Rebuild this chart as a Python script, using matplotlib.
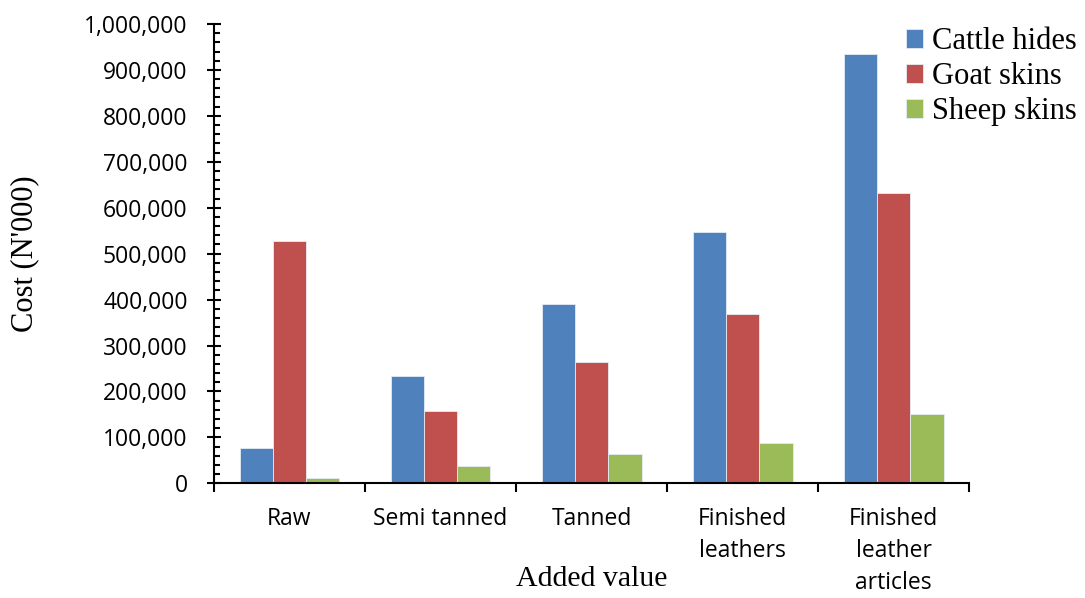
import matplotlib
matplotlib.use("Agg")
import matplotlib.pyplot as plt
from matplotlib.ticker import FuncFormatter, MultipleLocator, FixedLocator
import numpy as np

# Cost of hides and skins at each stage of added value (N'000)
categories = ["Raw", "Semi tanned", "Tanned", "Finished\nleathers", "Finished\nleather\narticles"]
cattle_hides = [77500, 233600, 389700, 546500, 935300]
goat_skins = [527500, 157400, 263400, 368600, 632000]
sheep_skins = [11500, 37700, 63100, 87700, 150200]
series_names = ["Cattle hides", "Goat skins", "Sheep skins"]
series_colors = ["#4F81BD", "#C0504D", "#9BBB59"]

sans = "Open Sans"
serif = "Liberation Serif"

fig = plt.figure(figsize=(10.85, 5.98), dpi=100)
ax = fig.add_axes([0.1972, 0.1918, 0.8934 - 0.1972, 0.9599 - 0.1918])

x = np.arange(len(categories))
width = 0.22
for i, (vals, name, col) in enumerate(zip([cattle_hides, goat_skins, sheep_skins],
                                          series_names, series_colors)):
    ax.bar(x + (i - 1) * width, vals, width, color=col, label=name,
           edgecolor="#E4ECF5", linewidth=0.6, zorder=2)

ax.set_xlim(-0.5, len(categories) - 0.5)
ax.set_ylim(0, 1_000_000)

for side in ("top", "right"):
    ax.spines[side].set_visible(False)
for side in ("left", "bottom"):
    ax.spines[side].set_linewidth(1.5)
    ax.spines[side].set_color("black")

# y axis: major ticks every 100,000 crossing the axis, minor ticks inside
ax.yaxis.set_major_locator(MultipleLocator(100_000))
ax.yaxis.set_minor_locator(MultipleLocator(20_000))
ax.yaxis.set_major_formatter(FuncFormatter(lambda v, p: f"{int(v):,}"))
ax.tick_params(axis="y", which="major", direction="inout", length=10, width=1.5,
               pad=14, labelsize=16.5, colors="black")
ax.tick_params(axis="y", which="minor", direction="in", length=4.3, width=1.5)

# x axis: labels at category centres, tick marks at category boundaries
ax.xaxis.set_major_locator(FixedLocator(x))
ax.set_xticklabels(categories, fontfamily=sans, linespacing=1.45)
ax.xaxis.set_minor_locator(FixedLocator(np.arange(-0.5, len(categories), 1.0)))
ax.tick_params(axis="x", which="major", length=0, pad=17, labelsize=16.5)
ax.tick_params(axis="x", which="minor", direction="out", length=6.5, width=1.5)

for lab in ax.get_yticklabels():
    lab.set_fontfamily(sans)

ax.set_ylabel("Cost (N'000)", fontfamily=serif, fontsize=22, va="center")
ax.yaxis.set_label_coords(-0.25, 0.5)
ax.set_xlabel("Added value", fontfamily=serif, fontsize=21.5, va="center")
ax.xaxis.set_label_coords(0.5, -0.208)

leg = ax.legend(loc="upper left", bbox_to_anchor=(906 / 1085, 1 - 27 / 598),
                bbox_transform=fig.transFigure, frameon=False, borderpad=0,
                handlelength=0.56, handleheight=0.56, handletextpad=0.3,
                labelspacing=0.2, borderaxespad=0,
                prop={"family": serif, "size": 22})

fig.savefig("out.png", dpi=100)
